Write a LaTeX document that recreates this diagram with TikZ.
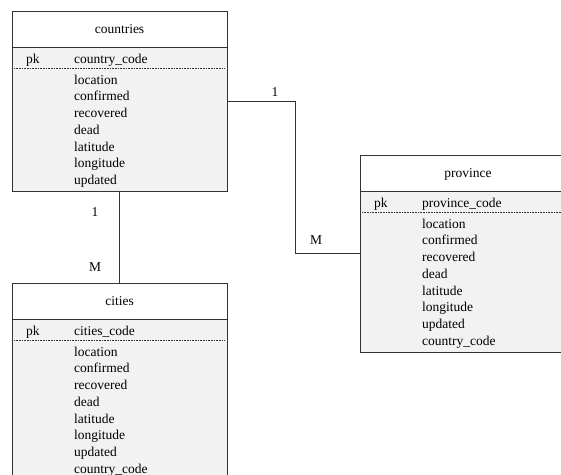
\documentclass[tikz,border=0pt]{standalone}
\usepackage{fontspec}
\setmainfont{Liberation Serif}
\newcommand\ertbl[8]{%
  \node[tbl, minimum width=#4pt, minimum height=#5pt] (#1) at (#2,#3) {};
  \draw[hdr] (#2,#3) rectangle ++(#4,36);
  \node[ttl] (#1-t) at (#2+#4/2,#3+22) {#6};
  \node[txt] (#1-pk) at (#2+14,#3+52.5) {pk};
  \node[txt] (#1-k) at (#2+62,#3+52.5) {#7};
  \draw[dotline] (#2+2,#3+57.5) -- (#2+#4-2,#3+57.5);
  \foreach \f [count=\i from 0] in {#8}
    \node[txt] (#1-f\i) at (#2+62,#3+73+16.75*\i) {\f};
}
\begin{document}
\begin{tikzpicture}[x=1pt,y=-1pt,
  tbl/.style={draw=black!80, line width=0.9pt, fill=black!5, anchor=north west, inner sep=0pt, outer sep=0pt},
  hdr/.style={draw=black!80, line width=0.9pt, fill=white},
  txt/.style={anchor=base west, inner sep=0pt, font=\fontsize{13.5}{15}\selectfont},
  ttl/.style={anchor=base, inner sep=0pt, font=\fontsize{13.5}{15}\selectfont},
  dotline/.style={black!80, line width=0.6pt, dash pattern=on 0.8pt off 0.8pt},
  conn/.style={draw=black!80, line width=0.9pt},
  card/.style={anchor=base, inner sep=0pt, font=\fontsize{13.5}{15}\selectfont}]
\useasboundingbox (0,0) rectangle (561,474);
\begin{scope}
\clip (0,0) rectangle (561,474);
\ertbl{countries}{12}{11}{215}{180}{countries}{country\_code}{location,confirmed,recovered,dead,latitude,longitude,updated}
\ertbl{province}{360}{155}{216}{197}{province}{province\_code}{location,confirmed,recovered,dead,latitude,longitude,updated,country\_code}
\ertbl{cities}{12}{283}{215}{197}{cities}{cities\_code}{location,confirmed,recovered,dead,latitude,longitude,updated,country\_code}
\coordinate (elbow) at (295,101);
\draw[conn] (countries.east) -- (elbow) |- (province.west);
\draw[conn] (countries.south) -- (cities.north);
\node[card] (c1a) at (275,96.7) {1};
\node[card] (cMa) at (316,244) {M};
\node[card] (c1b) at (95,216.7) {1};
\node[card] (cMb) at (95,271) {M};
\end{scope}
\end{tikzpicture}
\end{document}
